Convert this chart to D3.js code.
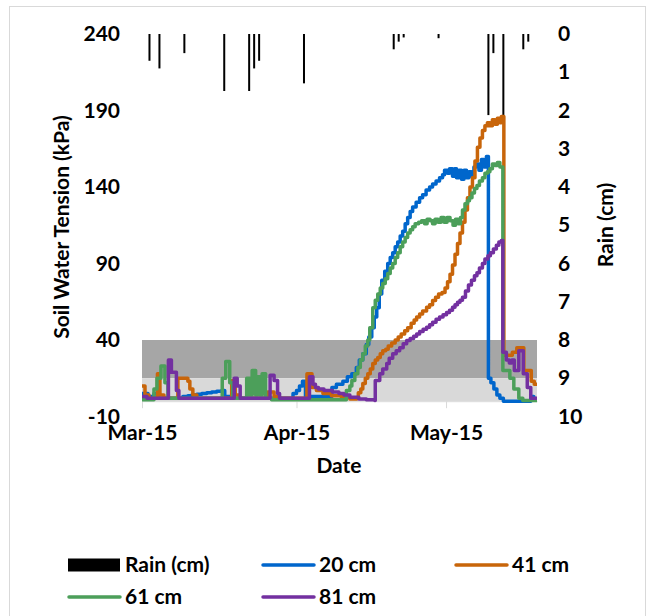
<!DOCTYPE html>
<html>
<head>
<meta charset="utf-8">
<script src="https://cdn.jsdelivr.net/npm/d3@7"></script>
<style>
  body { margin: 0; background: #fff; }
  svg text { font-family: Lato, "Open Sans", sans-serif; font-weight: bold; fill: #000; }
</style>
</head>
<body>
<div id="chart"></div>
<script>
// days are counted from 1 Mar 2015
const start = new Date(2015, 2, 1);

// rain per day (cm)
const rainDay = [1, 3, 8, 16, 21, 22, 23, 32, 50, 51, 52, 59, 69, 70, 72, 76, 77];
const rainCm  = [0.7, 0.9, 0.5, 1.49, 1.49, 0.9, 0.7, 1.29, 0.4, 0.2, 0.09, 0.11, 2.12, 0.5, 2.3, 0.4, 0.2];

// soil water tension readings [day, kPa]
const cm20 = [[0,5],[1.2,3],[2.4,5],[3.2,2],[7,2],[8.2,3],[9.2,3.5],[10,4],[11,4.5],[12,5],[13,5.5],[14,6],[15,6.5],[16,7],[16.6,3],[18,2],
  [30,2],[30.3,5],[31,7],[31.6,10],[32.2,13],[32.8,3],[37.6,3],[38.1,9],[39,11],[40.3,13],[41.2,16],[42.1,18],[43,22],[43.6,27],[44.3,31],
  [45,37],[45.5,42],[46.1,48],[46.6,55],[47.1,61],[47.6,70],[48.1,79],[48.7,85],[49.3,90],[49.8,94],[50.3,97],[50.8,101],[51.3,104],
  [51.8,108],[52.3,111],[52.8,116],[53.3,120],[53.8,124],[54.3,127],[55,130],[55.7,133],[56.3,135],[57,138],[57.7,140],[58.3,142],[59,144],
  [59.7,146],[60.3,148],[60.7,151],[61.3,149],[61.7,152],[62.3,147],[62.7,152],[63.1,146],[63.6,151],[64.1,145],[64.6,151],[65.1,146],
  [65.6,150],[66.1,147],[66.6,153],[67.1,155],[67.6,151],[68.1,158],[68.6,153],[69.1,160],[69.5,15],[70,12],[70.6,8],[71.2,4],[71.8,2],
  [72.5,0],[78,3],[78.6,1],[79.25,1]];

const cm41 = [[0,10],[0.6,4],[1.4,2],[2.9,2],[3.1,18],[3.6,4],[4.4,2],[7,2],[7.2,15],[9.2,13],[9.6,8],[10.2,4],[11,2],[17.8,2],[18,13.5],
  [18.7,4],[19.5,2],[25,2],[25.2,6],[26.5,3],[27.3,2],[32.9,2],[33.1,18],[34.1,9],[35,7],[36.3,5],[38,3.5],[40,2.5],[41.7,1.5],[43.1,2],
  [43.4,5.6],[43.9,8],[44.3,11.5],[44.8,15],[45.3,18],[45.8,21],[46.3,24.6],[46.8,27],[47.3,28.6],[47.8,31],[48.3,33],[48.9,34],[49.4,36],
  [50.1,38],[50.8,40],[51.4,42],[52,44],[52.7,46],[53.3,48],[54,51],[54.6,53],[55.1,55],[55.7,57],[56.3,59],[57.1,61.4],[57.7,63],
  [58.3,65.8],[58.9,68],[59.5,70],[60.2,71],[60.8,74],[61.3,78],[61.8,83],[62.3,89],[62.8,96],[63.3,103],[63.8,110],[64.3,117],[64.8,125],
  [65.3,133],[65.8,140],[66.3,146],[66.8,157],[67.3,166],[67.8,172],[68.3,177],[68.8,180],[69.3,182],[69.8,180],[70.3,184],[70.8,181],
  [71.3,185],[71.8,182],[72.1,186],[72.6,30],[74.3,32],[75.2,35],[76.6,20],[78.1,13],[78.7,11],[79.25,11]];

const cm61 = [[0,1],[2.4,8],[3,15],[3.8,23],[4.6,12],[5.2,2],[16,2],[16.1,15],[16.8,26],[17.6,12],[18.2,2],[20.8,2],[21,15],[21.6,4],
  [22.1,20],[22.8,4],[23.1,16],[23.7,4],[24.1,18],[24.8,2],[26,1],[40.3,1],[41,7],[41.7,10],[42.1,13.5],[42.7,18],[43.3,22],[43.8,27],
  [44.3,31],[44.8,36],[45.3,40],[45.7,48],[46.3,61],[46.8,66],[47.3,70],[47.8,74],[48.3,77],[48.8,80],[49.3,83.5],[49.8,87],[50.3,90],
  [50.8,94],[51.3,97],[51.8,101],[52.3,104],[52.8,107],[53.3,110],[53.8,112],[54.3,114],[54.8,116],[55.5,117],[56.1,118],[56.7,116],
  [57.2,119],[57.8,118],[58.3,116],[58.8,119],[59.4,117],[60,120],[60.6,117],[61.2,120],[61.8,118],[62.4,115],[62.9,119],[63.4,116],
  [63.9,120],[64.3,125],[64.8,129],[65.3,131],[65.7,133],[66.2,136],[66.7,139],[67.2,141],[67.7,144],[68.3,146],[68.8,149],[69.3,150],
  [69.8,152],[70.3,155],[70.8,154],[71.3,156],[71.8,153],[72.4,20],[73.8,15],[74.6,8],[75.6,2],[76.4,0.5],[79.25,0.5]];

const cm81 = [[0,3],[1,2],[5.2,2],[5.3,27],[5.9,19],[6.9,7],[7.4,2],[18.4,2],[18.5,15],[19.1,10],[19.7,2],[25.6,2],[25.7,17],[26.5,13.5],
  [27.2,5],[27.6,2],[33.4,2],[33.6,16],[34.3,11],[34.8,9],[35.4,8],[36.5,7],[38.2,6],[39.5,5],[40.5,4],[41.7,2.6],[43.5,1.5],[45,1],
  [46.7,0.5],[46.8,13.5],[47.7,18],[48.3,21],[49.1,24.6],[49.6,28],[50.3,31],[51,33],[51.7,35],[52.4,37.5],[53.1,39.7],[53.8,41],
  [54.5,42.5],[55.1,44],[55.7,45.5],[56.4,47],[57.1,48.4],[57.7,50],[58.3,51.6],[59,53.5],[59.7,55],[60.4,56.5],[61.1,58],[61.7,59.5],
  [62.3,61.4],[62.8,63],[63.3,64.7],[63.8,66],[64.3,68],[64.9,72],[65.5,76],[66.1,79],[66.7,82],[67.2,84],[67.7,87],[68.3,90],[68.8,93],
  [69.4,95],[69.9,97],[70.5,99.5],[71.1,102],[71.6,104],[72.1,105],[72.4,32],[73.1,27],[73.7,25],[74.2,27],[74.7,20],[75.6,33],[76.5,18],
  [77.3,9],[78,2],[79.25,2]];

// comfort bands (kPa)
const bands = [[15, 40, "#a6a6a6"], [0, 15, "#d9d9d9"]];

const tensionTicks = [-10, 40, 90, 140, 190, 240];
const rainTicks = [0, 1, 2, 3, 4, 5, 6, 7, 8, 9, 10];

const series = [
  { name: "20 cm", data: cm20, color: "#0066cc" },
  { name: "41 cm", data: cm41, color: "#c8650a" },
  { name: "61 cm", data: cm61, color: "#4c9f5a" },
  { name: "81 cm", data: cm81, color: "#7330a0" }
];

const width = 650, height = 616;
const toDate = d => new Date(start.getTime() + d * 864e5);

let svg = d3.select("#chart").append("svg").attr("width", width).attr("height", height);

svg.append("rect").attr("x", 9.5).attr("y", 6.5).attr("width", 636).attr("height", 640)
  .attr("fill", "#fff").attr("stroke", "#d9d9d9");

let x = d3.scaleTime().domain([start, toDate(79.25)]).range([142, 537]);
let y = d3.scaleLinear().domain([-10, 240]).range([416.5, 34]);
let yRain = d3.scaleLinear().domain([0, 10]).range([34, 416.5]);

// bands
svg.append("g").selectAll("rect").data(bands).enter().append("rect")
  .attr("x", x.range()[0]).attr("width", x.range()[1] - x.range()[0])
  .attr("y", d => y(d[1])).attr("height", d => y(d[0]) - y(d[1]))
  .attr("fill", d => d[2]);

// x axis crosses at 0 kPa
let xAxis = svg.append("g").attr("transform", `translate(0,${y(0)})`)
  .call(d3.axisBottom(x).ticks(d3.timeMonth.every(1)).tickFormat(d3.timeFormat("%b-%y")).tickSize(7).tickSizeOuter(0));
xAxis.select(".domain").attr("stroke", "#d9d9d9");
xAxis.selectAll(".tick line").attr("stroke", "#d9d9d9");
xAxis.selectAll(".tick text").attr("y", y(-10) - y(0) + 16).attr("dy", "0.35em").attr("font-size", 21);

// left axis
let yAxis = svg.append("g").attr("transform", "translate(120,0)")
  .call(d3.axisLeft(y).tickValues(tensionTicks).tickFormat(d => String(d)).tickSize(0).tickPadding(0));
yAxis.select(".domain").remove();
yAxis.selectAll("text").attr("font-size", 21);

// right axis
let rAxis = svg.append("g").attr("transform", "translate(558,0)")
  .call(d3.axisRight(yRain).tickValues(rainTicks).tickSize(0).tickPadding(0));
rAxis.select(".domain").remove();
rAxis.selectAll("text").attr("font-size", 21);

// rain bars hang from the top
svg.append("g").selectAll("rect").data(rainDay).enter().append("rect")
  .attr("x", d => x(toDate(d + 0.5)) - 1)
  .attr("width", 2)
  .attr("y", yRain(0))
  .attr("height", (d, i) => yRain(rainCm[i]) - yRain(0))
  .attr("fill", "#000");

// tension lines
let line = d3.line().x(d => x(toDate(d[0]))).y(d => y(d[1])).curve(d3.curveStepAfter);
svg.append("g").selectAll("path").data(series).enter().append("path")
  .attr("d", d => line(d.data))
  .attr("fill", "none")
  .attr("stroke", d => d.color)
  .attr("stroke-width", 3.5)
  .attr("stroke-linejoin", "round");

// titles
svg.append("text").attr("x", 339).attr("y", 466).attr("text-anchor", "middle").attr("dy", "0.35em")
  .attr("font-size", 21).text("Date");
svg.append("text").attr("transform", "translate(62,227) rotate(-90)").attr("text-anchor", "middle").attr("dy", "0.35em")
  .attr("font-size", 21).text("Soil Water Tension (kPa)");
svg.append("text").attr("transform", "translate(606,225) rotate(-90)").attr("text-anchor", "middle").attr("dy", "0.35em")
  .attr("font-size", 21).text("Rain (cm)");

// legend
let legend = [
  { name: "Rain (cm)", color: "#000", bar: true, lx: 68, ly: 565 },
  { name: "20 cm", color: series[0].color, lx: 262, ly: 565 },
  { name: "41 cm", color: series[1].color, lx: 455, ly: 565 },
  { name: "61 cm", color: series[2].color, lx: 68, ly: 597 },
  { name: "81 cm", color: series[3].color, lx: 262, ly: 597 }
];
let lg = svg.append("g").selectAll("g").data(legend).enter().append("g")
  .attr("transform", d => `translate(${d.lx},${d.ly})`);
lg.filter(d => d.bar).append("rect").attr("x", 0).attr("y", -6.5).attr("width", 52).attr("height", 13).attr("fill", "#000");
lg.filter(d => !d.bar).append("line").attr("x1", 1).attr("x2", 52).attr("stroke", d => d.color)
  .attr("stroke-width", 3.5).attr("stroke-linecap", "round");
lg.append("text").attr("x", 57).attr("dy", "0.35em").attr("font-size", 21).text(d => d.name);
</script>
</body>
</html>
